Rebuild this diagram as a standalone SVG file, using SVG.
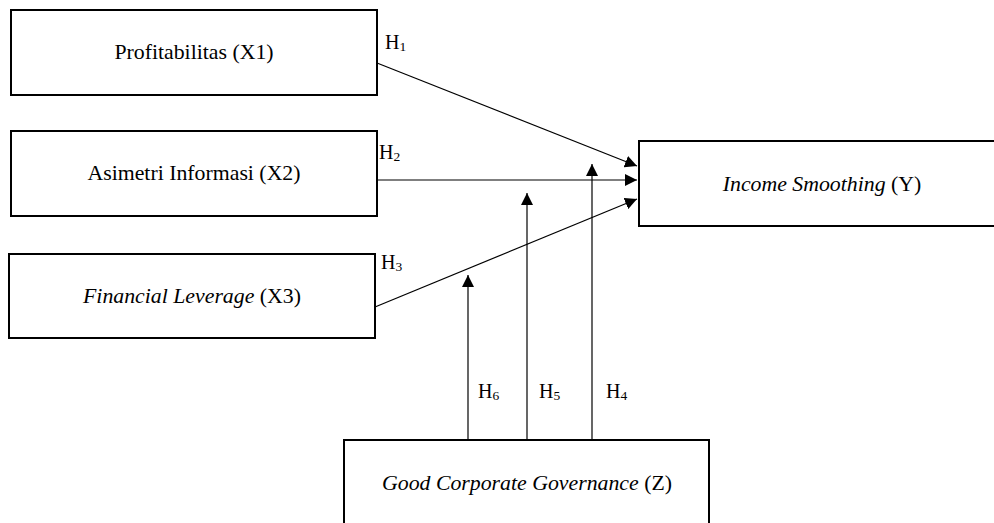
<svg xmlns="http://www.w3.org/2000/svg" width="994" height="523" viewBox="0 0 994 523">
<style>
.box{fill:#fff;stroke:#000;stroke-width:2}
.t{font-family:"Liberation Serif","Times New Roman",serif;font-size:21.8px;fill:#000;text-anchor:middle}
.h{font-family:"Liberation Serif","Times New Roman",serif;font-size:20px;fill:#000}
.s{font-size:13.5px}
.c{stroke:#000;stroke-width:1.2;fill:none;marker-end:url(#arr)}
</style>
<defs>
<marker id="arr" viewBox="0 0 12 12" refX="12" refY="6" markerWidth="12" markerHeight="12" markerUnits="userSpaceOnUse" orient="auto">
<path d="M0,0 L12,6 L0,12 Z" fill="#000"/>
</marker>
</defs>
<rect width="994" height="523" fill="#fff"/>
<g id="connectors">
<line class="c" x1="377" y1="63" x2="637" y2="166"/>
<line class="c" x1="377" y1="180" x2="637" y2="180"/>
<line class="c" x1="375" y1="307" x2="637" y2="199"/>
<line class="c" x1="592" y1="440" x2="592" y2="164"/>
<line class="c" x1="527" y1="440" x2="527" y2="193"/>
<line class="c" x1="468" y1="440" x2="468" y2="275"/>
<text class="h" x="385" y="49">H<tspan class="s" dy="2">1</tspan></text>
<text class="h" x="379" y="159">H<tspan class="s" dy="2">2</tspan></text>
<text class="h" x="381" y="269">H<tspan class="s" dy="2">3</tspan></text>
<text class="h" x="478" y="398">H<tspan class="s" dy="2">6</tspan></text>
<text class="h" x="539" y="398">H<tspan class="s" dy="2">5</tspan></text>
<text class="h" x="606" y="398">H<tspan class="s" dy="2">4</tspan></text>
</g>
<g id="x1">
<rect class="box" x="11" y="10" width="366" height="85"/>
<text class="t" x="194" y="59">Profitabilitas (X1)</text>
</g>
<g id="x2">
<rect class="box" x="11" y="131" width="366" height="85"/>
<text class="t" x="194" y="180">Asimetri Informasi (X2)</text>
</g>
<g id="x3">
<rect class="box" x="9" y="254" width="366" height="84"/>
<text class="t" x="192" y="303"><tspan font-style="italic">Financial Leverage</tspan> (X3)</text>
</g>
<g id="y">
<rect class="box" x="639" y="141" width="370" height="85"/>
<text class="t" x="822" y="191"><tspan font-style="italic">Income Smoothing</tspan> (Y)</text>
</g>
<g id="z">
<rect class="box" x="344" y="440" width="365" height="100"/>
<text class="t" x="527" y="490"><tspan font-style="italic">Good Corporate Governance</tspan> (Z)</text>
</g>
</svg>
